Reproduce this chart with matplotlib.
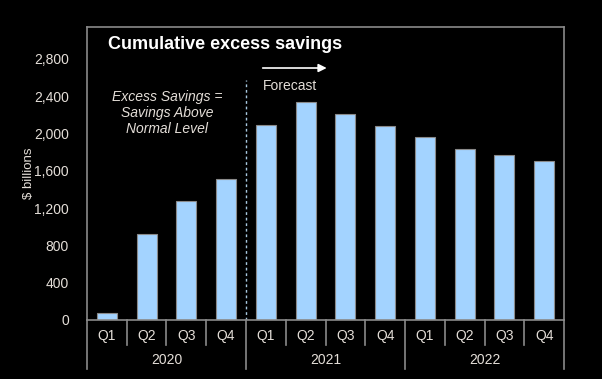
import numpy as np
import matplotlib.pyplot as plt
from matplotlib.ticker import FuncFormatter

plt.rcParams['font.family'] = ['Liberation Sans', 'DejaVu Sans']

quarters = ["Q1", "Q2", "Q3", "Q4"] * 3
years = ["2020", "2021", "2022"]
savings = [80, 920, 1270, 1510, 2090, 2340, 2210, 2080, 1960, 1835, 1765, 1700]
yticks = [0, 400, 800, 1200, 1600, 2000, 2400, 2800]

txt = "#e4ded8"
grey = "#8a8a8a"
bar_col = "#a3d3ff"

fig = plt.figure(figsize=(6.02, 3.79), dpi=100, facecolor="black")
ax = fig.add_axes([0.1445, 0.1557, 0.7924, 0.7731], facecolor="black")

x = np.arange(len(savings))
ax.bar(x, savings, width=0.5, color=bar_col, edgecolor=grey, linewidth=0.8, zorder=2)

ax.set_xlim(-0.5, len(savings) - 0.5)
ax.set_ylim(0, 3140)
ax.set_yticks(yticks)
ax.yaxis.set_major_formatter(FuncFormatter(lambda v, p: f"{int(v):,}"))
ax.tick_params(axis="y", length=0, pad=13, colors=txt, labelsize=10)
ax.set_xticks([])
for s in ax.spines.values():
    s.set_color(grey)
    s.set_linewidth(1.2)
ax.set_ylabel("$ billions", color=txt, fontsize=9.5, labelpad=-1)

# quarter / year labels below the axis
trans = ax.get_xaxis_transform()
for i, q in enumerate(quarters):
    ax.text(i, -0.055, q, transform=trans, ha="center", va="center", color=txt, fontsize=10)
for b in range(len(quarters) + 1):
    bottom = -0.168 if b % 4 == 0 else -0.085
    ax.plot([b - 0.5, b - 0.5], [0, bottom], transform=trans, color=grey, lw=1.2, clip_on=False)
for k, yr in enumerate(years):
    ax.text(4 * k + 1.5, -0.137, yr, transform=trans, ha="center", va="center", color=txt, fontsize=10)

# forecast marker
ax.plot([3.5, 3.5], [0, 0.82], transform=trans, color="#a8c8e0", lw=1, ls=(0, (2, 2)), zorder=1)
ax.annotate("", xy=(5.6, 0.86), xytext=(3.85, 0.86), xycoords=trans, textcoords=trans,
            arrowprops=dict(arrowstyle="-|>", color="white", lw=1.2, mutation_scale=12))
ax.text(3.93, 0.80, "Forecast", transform=trans, ha="left", va="center", color=txt, fontsize=10)

ax.text(0.044, 0.939, "Cumulative excess savings", transform=ax.transAxes, ha="left", va="center",
        color="white", fontsize=13, fontweight="bold")
ax.text(1.51, 0.706, "Excess Savings =\nSavings Above\nNormal Level", transform=trans,
        ha="center", va="center", color=txt, fontsize=10, style="italic", linespacing=1.2)

fig.savefig("out.png", dpi=100, facecolor="black")
